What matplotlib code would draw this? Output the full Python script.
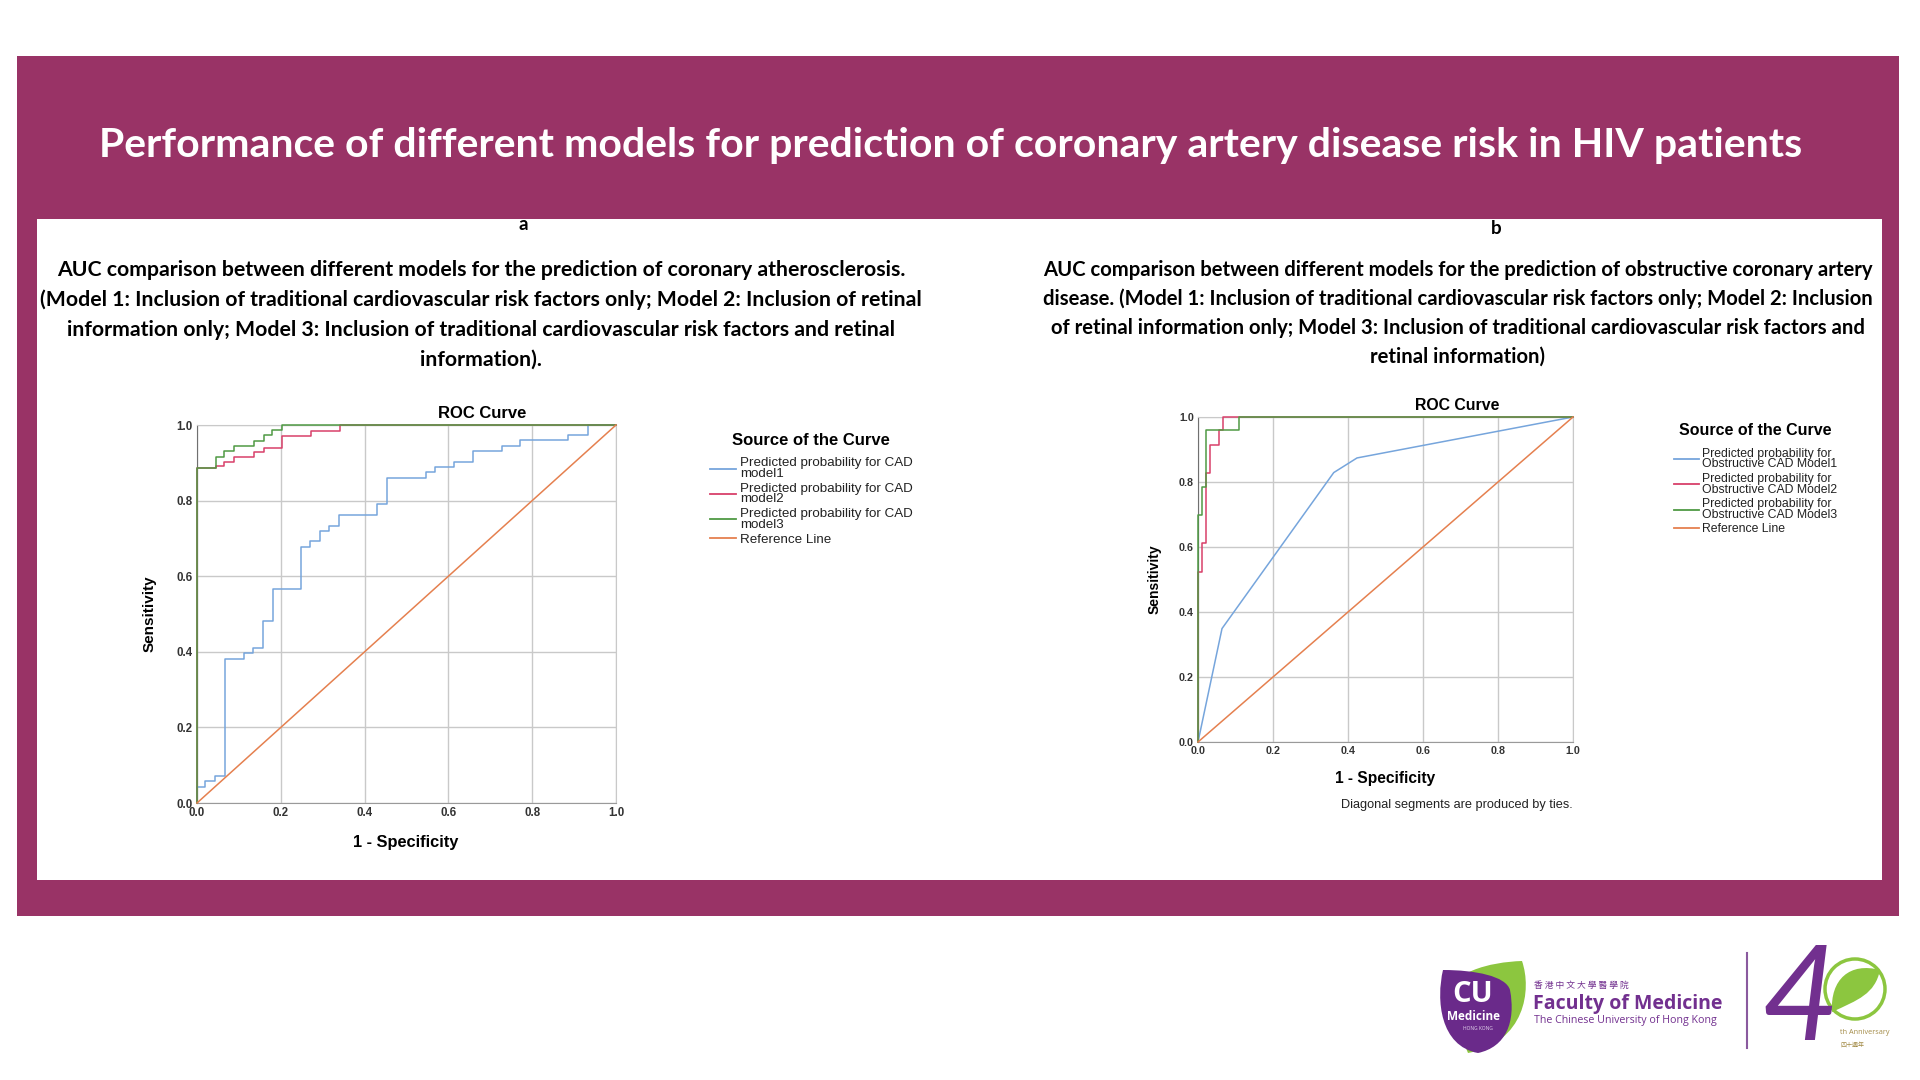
import matplotlib
matplotlib.use("Agg")
import matplotlib.pyplot as plt
from matplotlib.patches import Rectangle, PathPatch, Circle
from matplotlib.path import Path
from matplotlib.lines import Line2D

W, H = 1920, 1080

# ---- data ----
title = "Performance of different models for prediction of coronary artery disease risk in HIV patients"
caption_a = ["AUC comparison between different models for the prediction of coronary atherosclerosis.",
             "(Model 1: Inclusion of traditional cardiovascular risk factors only; Model 2: Inclusion of retinal",
             "information only; Model 3: Inclusion of traditional cardiovascular risk factors and retinal",
             "information)."]
caption_b = ["AUC comparison between different models for the prediction of obstructive coronary artery",
             "disease. (Model 1: Inclusion of traditional cardiovascular risk factors only; Model 2: Inclusion",
             "of retinal information only; Model 3: Inclusion of traditional cardiovascular risk factors and",
             "retinal information)"]

ticks = [0.0, 0.2, 0.4, 0.6, 0.8, 1.0]
tick_labels = ["0.0", "0.2", "0.4", "0.6", "0.8", "1.0"]

# panel a (step curves, drawn steps-post)
m1a_fpr = [0, 0, 0.020, 0.042, 0.066, 0.111, 0.134, 0.158, 0.181, 0.248, 0.270, 0.293, 0.316,
           0.338, 0.430, 0.453, 0.546, 0.567, 0.613, 0.659, 0.728, 0.772, 0.885, 0.932, 1.0]
m1a_tpr = [0, 0.042, 0.057, 0.072, 0.381, 0.396, 0.410, 0.482, 0.566, 0.678, 0.692, 0.720, 0.734,
           0.762, 0.790, 0.861, 0.875, 0.890, 0.903, 0.931, 0.945, 0.959, 0.974, 1.0, 1.0]
m2a_fpr = [0, 0, 0.045, 0.065, 0.089, 0.137, 0.159, 0.204, 0.271, 0.341, 1.0]
m2a_tpr = [0, 0.887, 0.892, 0.902, 0.916, 0.929, 0.940, 0.972, 0.985, 1.0, 1.0]
m3a_fpr = [0, 0, 0.045, 0.065, 0.089, 0.137, 0.159, 0.180, 0.204, 1.0]
m3a_tpr = [0, 0.887, 0.916, 0.930, 0.945, 0.958, 0.973, 0.987, 1.0, 1.0]

# panel b (model 1 has ties -> straight segments)
m1b_fpr = [0, 0.064, 0.362, 0.424, 1.0]
m1b_tpr = [0, 0.349, 0.829, 0.874, 1.0]
m2b_fpr = [0, 0, 0.011, 0.020, 0.033, 0.055, 0.067, 1.0]
m2b_tpr = [0, 0.524, 0.611, 0.827, 0.915, 0.959, 1.0, 1.0]
m3b_fpr = [0, 0, 0.011, 0.020, 0.108, 1.0]
m3b_tpr = [0, 0.699, 0.784, 0.959, 1.0, 1.0]

ref_line = [0, 1]

labels_a = ["Predicted probability for CAD\nmodel1", "Predicted probability for CAD\nmodel2",
            "Predicted probability for CAD\nmodel3", "Reference Line"]
labels_b = ["Predicted probability for\nObstructive CAD Model1", "Predicted probability for\nObstructive CAD Model2",
            "Predicted probability for\nObstructive CAD Model3", "Reference Line"]

BLUE, RED, GREEN, ORANGE = "#76a5dc", "#d8406a", "#4f9a44", "#e5804f"
MAROON = "#993366"
PURPLE = "#72308f"
ARIAL = ["Liberation Sans", "DejaVu Sans"]
CALIB = ["Lato", "DejaVu Sans"]


def px_axes(x, y, w, h, **kw):
    return fig.add_axes([x / W, 1 - (y + h) / H, w / W, h / H], **kw)


fig = plt.figure(figsize=(19.2, 10.8), dpi=100)
fig.patch.set_facecolor("white")

bg = px_axes(0, 0, W, H)
bg.set_xlim(0, W)
bg.set_ylim(H, 0)
bg.axis("off")

# banner + white panel
bg.add_patch(Rectangle((17, 56), 1882, 860, color=MAROON, lw=0))
bg.add_patch(Rectangle((37, 219), 1845, 661, color="white", lw=0))
bg.text(951, 146, title, color="white", fontsize=29.5, fontweight="bold",
        family=CALIB, ha="center", va="center")

bg.text(523, 225, "a", fontsize=13.5, fontweight="bold", family=CALIB, ha="center", va="center")
bg.text(1496, 228, "b", fontsize=13.5, fontweight="bold", family=CALIB, ha="center", va="center")
for i, line in enumerate(caption_a):
    bg.text(481, 270 + i * 30, line, fontsize=15.3, fontweight="bold", family=CALIB,
            ha="center", va="center")
for i, line in enumerate(caption_b):
    bg.text(1458, 270 + i * 29, line, fontsize=14.6, fontweight="bold", family=CALIB,
            ha="center", va="center")


def roc_panel(box, curves, labels, leg_xy, sizes):
    tick_fs, leg_fs, legt_fs = sizes
    ax = px_axes(*box)
    for fpr, tpr, color, style in curves:
        ax.plot(fpr, tpr, color=color, lw=1.1, drawstyle=style, clip_on=False, zorder=3)
    ax.plot(ref_line, ref_line, color=ORANGE, lw=1.1, clip_on=False, zorder=3)
    ax.set_xlim(0, 1)
    ax.set_ylim(0, 1)
    ax.set_xticks(ticks)
    ax.set_yticks(ticks)
    ax.set_xticklabels(tick_labels, family=ARIAL, fontsize=tick_fs, fontweight="bold", color="#333333")
    ax.set_yticklabels(tick_labels, family=ARIAL, fontsize=tick_fs, fontweight="bold", color="#333333")
    ax.tick_params(length=0, pad=3)
    ax.grid(True, color="#c9c9c9", lw=1.0)
    for s in ax.spines.values():
        s.set_color("#c9c9c9")
    ax.spines["left"].set_color("#707070")
    ax.spines["bottom"].set_color("#9a9a9a")
    ax.set_axisbelow(True)

    handles = [Line2D([], [], color=c, lw=1.3) for c in (BLUE, RED, GREEN, ORANGE)]
    leg = ax.legend(handles, labels, loc="upper left",
                    bbox_to_anchor=(leg_xy[0] / W, 1 - leg_xy[1] / H),
                    bbox_transform=fig.transFigure, frameon=False, borderpad=0,
                    prop={"family": ARIAL, "size": leg_fs}, handlelength=2.0,
                    handletextpad=0.3, labelspacing=0.2,
                    title="Source of the Curve",
                    title_fontproperties={"family": ARIAL, "size": legt_fs, "weight": "bold"})
    for t in leg.get_texts():
        t.set_linespacing(0.85)
        t.set_color("#222222")
    leg._legend_box.sep = 7
    return ax


ax1 = roc_panel((197, 425, 419, 378),
                [(m1a_fpr, m1a_tpr, BLUE, "steps-post"),
                 (m2a_fpr, m2a_tpr, RED, "steps-post"),
                 (m3a_fpr, m3a_tpr, GREEN, "steps-post")],
                labels_a, (703, 426), (8.3, 9.6, 12.0))
bg.text(482, 413, "ROC Curve", family=ARIAL, fontsize=12, fontweight="bold", ha="center", va="center")
bg.text(150, 614, "Sensitivity", family=ARIAL, fontsize=11, fontweight="bold",
        rotation=90, ha="center", va="center")
bg.text(406, 842, "1 - Specificity", family=ARIAL, fontsize=11.8, fontweight="bold",
        ha="center", va="center")

ax2 = roc_panel((1198, 417, 375, 325),
                [(m1b_fpr, m1b_tpr, BLUE, "default"),
                 (m2b_fpr, m2b_tpr, RED, "steps-post"),
                 (m3b_fpr, m3b_tpr, GREEN, "steps-post")],
                labels_b, (1668, 417), (7.7, 8.8, 11.5))
bg.text(1457, 406, "ROC Curve", family=ARIAL, fontsize=11.4, fontweight="bold", ha="center", va="center")
bg.text(1155, 579, "Sensitivity", family=ARIAL, fontsize=10, fontweight="bold",
        rotation=90, ha="center", va="center")
bg.text(1385, 778, "1 - Specificity", family=ARIAL, fontsize=11.2, fontweight="bold",
        ha="center", va="center")
bg.text(1457, 805, "Diagonal segments are produced by ties.", family=ARIAL, fontsize=9.2,
        ha="center", va="center", color="#222222")

# ---- faculty logo (approximate) ----
green_leaf = Path([(1468, 1053), (1525, 1042), (1532, 990), (1522, 961),
                   (1490, 962), (1448, 972), (1446, 1000), (1468, 1053)],
                  [Path.MOVETO, Path.CURVE4, Path.CURVE4, Path.CURVE4,
                   Path.CURVE4, Path.CURVE4, Path.CURVE4, Path.CLOSEPOLY])
bg.add_patch(PathPatch(green_leaf, facecolor="#8cc63f", lw=0))
purple_leaf = Path([(1478, 1053), (1440, 1046), (1436, 1000), (1443, 970),
                    (1475, 970), (1506, 976), (1510, 990),
                    (1516, 1022), (1506, 1047), (1478, 1053), (1478, 1053)],
                   [Path.MOVETO, Path.CURVE4, Path.CURVE4, Path.CURVE4,
                    Path.CURVE4, Path.CURVE4, Path.CURVE4,
                    Path.CURVE4, Path.CURVE4, Path.CURVE4, Path.CLOSEPOLY])
bg.add_patch(PathPatch(purple_leaf, facecolor="#6a2a8a", lw=0))
bg.text(1473, 995, "CU", color="white", fontsize=21, fontweight="bold",
        family=["Open Sans", "DejaVu Sans"], ha="center", va="center")
bg.text(1473, 1017, "Medicine", color="white", fontsize=8.5, fontweight="bold",
        family=["Open Sans", "DejaVu Sans"], ha="center", va="center")
bg.text(1478, 1028, "HONG KONG", color="#e6d8ee", fontsize=3.5,
        family=["Open Sans", "DejaVu Sans"], ha="center", va="center")

bg.text(1534, 985, "香 港 中 文 大 學 醫 學 院", color=PURPLE, fontsize=6.3,
        family=["Noto Sans CJK TC", "DejaVu Sans"], ha="left", va="center")
bg.text(1533, 1004, "Faculty of Medicine", color=PURPLE, fontsize=14, fontweight="bold",
        family=["Open Sans", "DejaVu Sans"], ha="left", va="center")
bg.text(1534, 1021, "The Chinese University of Hong Kong", color=PURPLE, fontsize=7.7,
        family=["Open Sans", "DejaVu Sans"], ha="left", va="center")
bg.plot([1747, 1747], [953, 1048], color="#8a5a9e", lw=1.5)

bg.add_patch(Circle((1855, 989), 30, facecolor="none", edgecolor="#8cc63f", lw=2.5))
leaf40 = Path([(1832, 1012), (1830, 979), (1850, 962), (1880, 970),
               (1875, 994), (1858, 1000), (1832, 1012)],
              [Path.MOVETO, Path.CURVE4, Path.CURVE4, Path.CURVE4,
               Path.CURVE4, Path.CURVE4, Path.CURVE4])
bg.add_patch(PathPatch(leaf40, facecolor="#8cc63f", lw=0))
bg.text(1800, 1040, "4", color=PURPLE, fontsize=96, style="italic",
        family=["Lato", "DejaVu Sans"], ha="center", va="baseline")
bg.text(1840, 1033, "th Anniversary", color="#a28a45", fontsize=5.2,
        family=["Open Sans", "DejaVu Sans"], ha="left", va="center")
bg.text(1840, 1045, "四十週年", color="#a28a45", fontsize=4.3,
        family=["Noto Sans CJK TC", "DejaVu Sans"], ha="left", va="center")

fig.savefig("out.png", dpi=100)
